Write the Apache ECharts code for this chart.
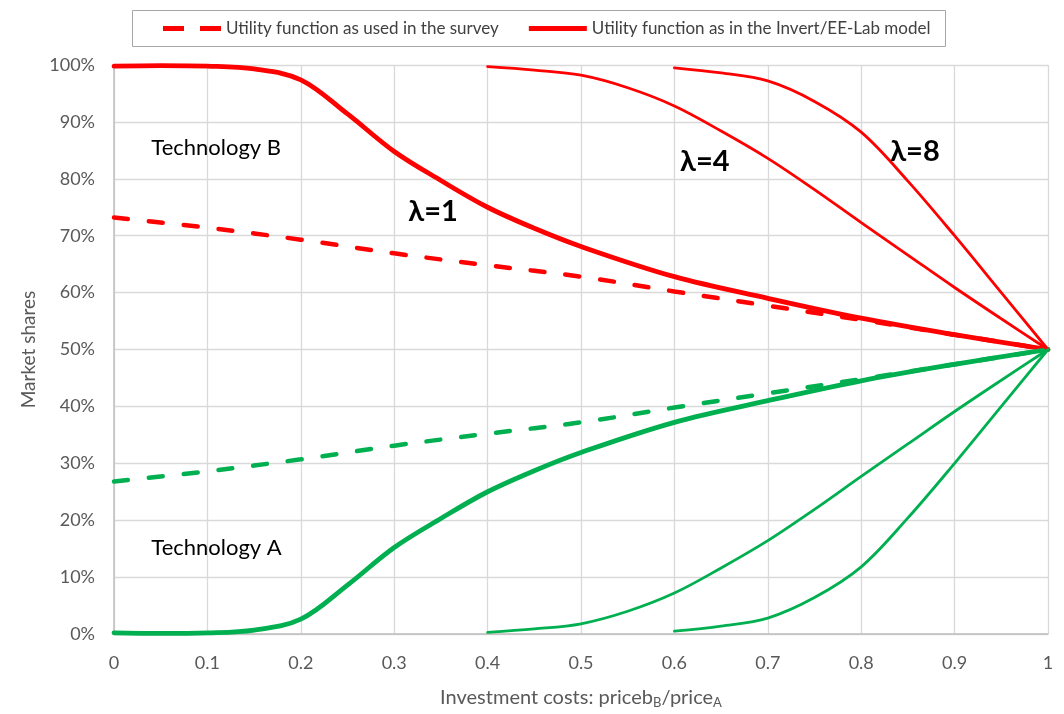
<!DOCTYPE html>
<html><head><meta charset="utf-8">
<script src="https://cdn.jsdelivr.net/npm/echarts@6/dist/echarts.min.js"></script>
<style>html,body{margin:0;padding:0;background:#fff}#c{width:1064px;height:714px}</style>
</head><body><div id="c"></div>
<script>
// x values (price ratio) and read shares (%)
const xSurvey = [0, 0.1, 0.2, 0.3, 0.4, 0.5, 0.6, 0.7, 0.8, 0.9, 1];
const surveyB = [73.2, 71.4, 69.3, 66.9, 64.8, 62.8, 60.2, 57.7, 55.2, 52.6, 50];
const surveyA = [26.8, 28.6, 30.7, 33.1, 35.2, 37.2, 39.8, 42.3, 44.8, 47.4, 50];

const xL1 = [0, 0.05, 0.1, 0.15, 0.2, 0.25, 0.3, 0.35, 0.4, 0.45, 0.5, 0.6, 0.7, 0.8, 0.9, 1];
const l1B = [99.8, 99.9, 99.8, 99.3, 97.4, 91.4, 84.8, 79.7, 75.0, 71.3, 68.1, 62.8, 59.0, 55.5, 52.6, 50];
const l1A = [0.2, 0.1, 0.2, 0.7, 2.6, 8.6, 15.2, 20.3, 25.0, 28.7, 31.9, 37.2, 41.0, 44.5, 47.4, 50];

const xL4 = [0.4, 0.45, 0.5, 0.55, 0.6, 0.65, 0.7, 0.75, 0.8, 0.85, 0.9, 0.95, 1];
const l4B = [99.7, 99.1, 98.2, 96.0, 92.8, 88.4, 83.6, 78.1, 72.3, 66.6, 60.9, 55.4, 50];
const l4A = [0.3, 0.9, 1.8, 4.0, 7.2, 11.6, 16.4, 21.9, 27.7, 33.4, 39.1, 44.6, 50];

const xL8 = [0.6, 0.65, 0.7, 0.75, 0.8, 0.85, 0.9, 0.95, 1];
const l8B = [99.5, 98.6, 97.2, 93.6, 88.2, 79.6, 70.0, 60.0, 50];
const l8A = [0.5, 1.4, 2.8, 6.4, 11.8, 20.4, 30.0, 40.0, 50];

const xTicks = ['0', '0.1', '0.2', '0.3', '0.4', '0.5', '0.6', '0.7', '0.8', '0.9', '1'];
const legendNames = ['Utility function as used in the survey', 'Utility function as in the Invert/EE-Lab model'];

const RED = '#ff0000', GREEN = '#00b050';
const FONT = 'Lato';
const zip = (xs, ys) => xs.map((x, i) => [x, ys[i]]);

function line(name, xs, ys, color, width, dashed, extra) {
  return Object.assign({
    name: name, type: 'line', data: zip(xs, ys), smooth: 0.35, symbol: 'none',
    lineStyle: { color: color, width: width, type: dashed ? [14, 21] : 'solid', cap: 'round' },
    itemStyle: { color: color }, z: dashed ? 3 : 4, silent: true
  }, extra || {});
}

function label(text, x, y, size, bold) {
  return {
    coord: [x, y], symbol: 'circle', symbolSize: 0,
    label: { show: true, position: 'right', distance: 0, formatter: text,
      fontFamily: FONT, fontSize: size, fontWeight: bold ? 'bold' : 'normal', color: '#000' }
  };
}

const chart = echarts.init(document.getElementById('c'), null, { renderer: 'canvas' });
chart.setOption({
  animation: false,
  textStyle: { fontFamily: FONT },
  grid: { left: 114, right: 16, top: 65, bottom: 79, containLabel: false },
  graphic: [{
    type: 'rect', left: 130, top: 8, shape: { width: 813, height: 36 },
    style: { fill: 'none', stroke: '#a6a6a6', lineWidth: 1 }, z: 1
  }],
  legend: {
    top: 15, left: 158, itemGap: 30, itemWidth: 58, itemHeight: 5,
    data: [
      { name: legendNames[0], icon: 'path://M0,0h21v5h-21z M37,0h21v5h-21z' },
      { name: legendNames[1], icon: 'path://M0,0h58v5h-58z' }
    ],
    textStyle: { fontFamily: FONT, fontSize: 17, color: '#404040' },
    selectedMode: false
  },
  xAxis: {
    type: 'value', min: 0, max: 1, interval: 0.1,
    name: 'Investment costs: priceb{s|B}/price{s|A}',
    nameLocation: 'middle', nameGap: 52,
    nameTextStyle: { fontFamily: FONT, fontSize: 20, color: '#595959',
      rich: { s: { fontFamily: FONT, fontSize: 13, color: '#595959', verticalAlign: 'bottom', padding: [10, 0, 0, 0] } } },
    axisLine: { show: true, lineStyle: { color: '#bfbfbf', width: 1.5 } },
    axisTick: { show: false },
    axisLabel: { fontFamily: FONT, fontSize: 18, color: '#595959', margin: 20,
      formatter: (v) => { const i = Math.round(v * 10); return xTicks[i] !== undefined ? xTicks[i] : ''; } },
    splitLine: { show: true, lineStyle: { color: '#d9d9d9', width: 1.3 } }
  },
  yAxis: {
    type: 'value', min: 0, max: 100, interval: 10,
    name: 'Market shares', nameLocation: 'middle', nameGap: 71,
    nameTextStyle: { fontFamily: FONT, fontSize: 19, color: '#595959' },
    axisLine: { show: true, lineStyle: { color: '#bfbfbf', width: 1.5 } },
    axisTick: { show: false },
    axisLabel: { fontFamily: FONT, fontSize: 18, color: '#595959', margin: 19, formatter: '{value}%' },
    splitLine: { show: true, lineStyle: { color: '#d9d9d9', width: 1.3 } }
  },
  series: [
    line(legendNames[0], xSurvey, surveyB, RED, 4.5, true),
    line('surveyA', xSurvey, surveyA, GREEN, 4.5, true),
    line(legendNames[1], xL1, l1B, RED, 4.8, false, {
      markPoint: { silent: true, data: [
        label('Technology B', 0.04, 85.4, 22, false),
        label('Technology A', 0.04, 15.1, 22, false),
        label('λ=1', 0.315, 74.3, 29, true),
        label('λ=4', 0.606, 83.0, 29, true),
        label('λ=8', 0.831, 84.7, 29, true)
      ] }
    }),
    line('l1A', xL1, l1A, GREEN, 4.8, false),
    line('l4B', xL4, l4B, RED, 2.8, false),
    line('l4A', xL4, l4A, GREEN, 2.8, false),
    line('l8B', xL8, l8B, RED, 2.8, false),
    line('l8A', xL8, l8A, GREEN, 2.8, false)
  ]
});
</script>
</body></html>
